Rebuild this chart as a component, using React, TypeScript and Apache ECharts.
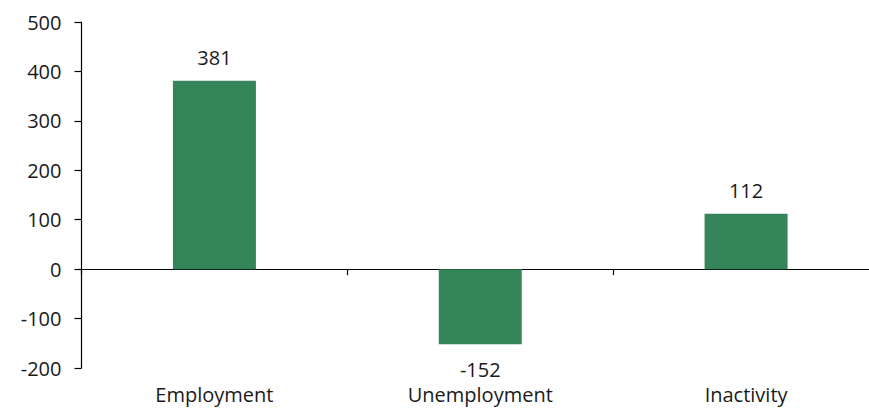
import React, { useEffect, useRef } from "react";
import * as echarts from "echarts";

const categories = ["Employment", "Unemployment", "Inactivity"];
const values = [381, -152, 112];
const yTicks = { min: -200, max: 500, interval: 100 };

const FONT = "'Open Sans', 'Noto Sans', sans-serif";
const BAR_COLOR = "#36845A";
const TEXT = "#1a1a1a";

export default function App() {
  const ref = useRef<HTMLDivElement>(null);
  useEffect(() => {
    document.body.style.margin = "0";
    document.body.style.overflow = "hidden";
    if (!ref.current) return;
    const chart = echarts.init(ref.current, undefined, { renderer: "svg" });
    chart.setOption({
      animation: false,
      grid: { left: 81.5, top: 22, bottom: 40, right: 0, containLabel: false },
      xAxis: [
        {
          type: "category",
          data: categories,
          position: "bottom",
          axisLine: { show: true, onZero: true, lineStyle: { color: "#000", width: 1.2 } },
          axisTick: { show: true, length: 6, interval: 0, lineStyle: { color: "#000", width: 1.2 } },
          axisLabel: { show: false },
          splitLine: { show: false },
        },
        {
          type: "category",
          data: categories,
          position: "bottom",
          axisLine: { show: false, onZero: false },
          axisTick: { show: false },
          axisLabel: { show: true, fontSize: 20, fontFamily: FONT, color: TEXT, margin: 16 },
          splitLine: { show: false },
        },
      ],
      yAxis: {
        type: "value",
        min: yTicks.min,
        max: yTicks.max,
        interval: yTicks.interval,
        axisLine: { show: true, lineStyle: { color: "#000", width: 1.2 } },
        axisTick: { show: true, length: 7, lineStyle: { color: "#000", width: 1.2 } },
        axisLabel: { fontSize: 20, fontFamily: FONT, color: TEXT, margin: 20 },
        splitLine: { show: false },
      },
      series: [
        {
          type: "bar",
          xAxisIndex: 0,
          barWidth: 83,
          itemStyle: { color: BAR_COLOR },
          data: values.map((v) => ({
            value: v,
            label: {
              show: true,
              position: v >= 0 ? "top" : "bottom",
              distance: v >= 0 ? 13 : 15,
              fontSize: 20,
              fontFamily: FONT,
              color: TEXT,
            },
          })),
        },
      ],
    });
    return () => chart.dispose();
  }, []);
  return (
    <div
      ref={ref}
      style={{ position: "fixed", left: 0, top: 0, width: 879, height: 408, background: "#fff" }}
    />
  );
}
